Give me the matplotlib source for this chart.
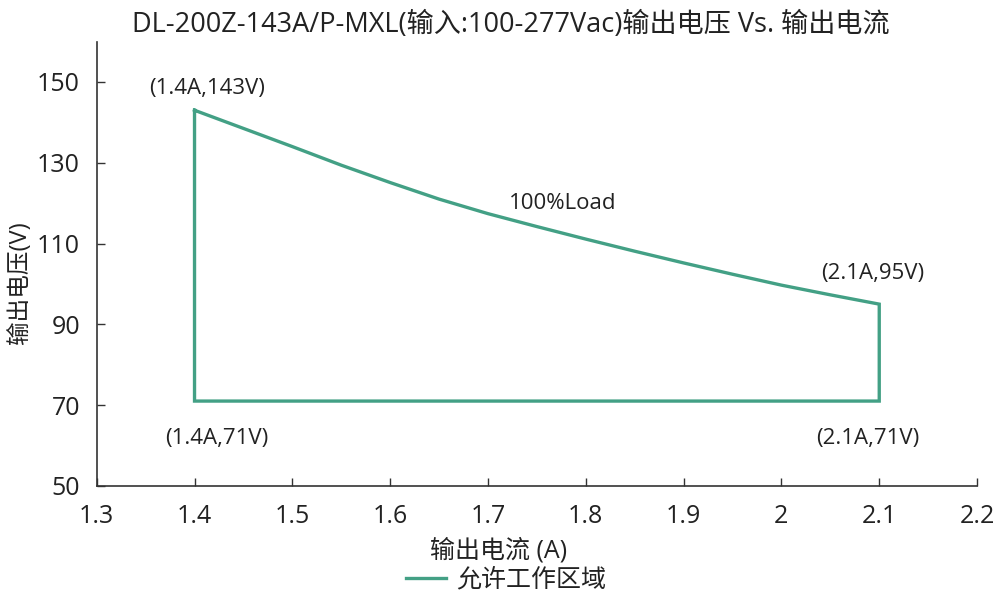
import matplotlib
matplotlib.use("Agg")
import matplotlib.pyplot as plt

plt.rcParams['font.family'] = ['Open Sans', 'Noto Sans CJK SC', 'DejaVu Sans']

# 100%Load 曲线 (输出电流 A, 输出电压 V)
curve_i = [1.4, 1.45, 1.5, 1.55, 1.6, 1.65, 1.7, 1.75, 1.8, 1.85, 1.9, 1.95, 2.0, 2.05, 2.1]
curve_v = [143, 138.5, 134.0, 129.4, 125.1, 121.0, 117.4, 114.2, 111.1, 108.1, 105.2,
           102.4, 99.7, 97.3, 95]
v_min = 71

labels = ["(1.4A,143V)", "(2.1A,95V)", "(1.4A,71V)", "(2.1A,71V)"]
label_xy = [(1.4, 143), (2.1, 95), (1.4, 71), (2.1, 71)]
label_off = [(0.013, 5.3), (-0.007, 7.6), (0.0225, -9.3), (-0.012, -9.3)]

green = '#43a085'
txt = '#222222'

fig = plt.figure(figsize=(9.97, 5.94), dpi=100)
ax = fig.add_axes([0.097, 0.182, 0.883, 0.748])

# 允许工作区域: 曲线 + 右边 + 底边 + 左边
xs = curve_i + [curve_i[-1], curve_i[0], curve_i[0]]
ys = curve_v + [v_min, v_min, curve_v[0]]
ax.plot(xs, ys, color=green, lw=2.4, label='允许工作区域', solid_joinstyle='miter')

ax.set_xlim(1.3, 2.2)
ax.set_ylim(50, 160)
ax.set_xticks([1.3, 1.4, 1.5, 1.6, 1.7, 1.8, 1.9, 2.0, 2.1, 2.2])
ax.set_xticklabels(['1.3', '1.4', '1.5', '1.6', '1.7', '1.8', '1.9', '2', '2.1', '2.2'])
ax.set_yticks([50, 70, 90, 110, 130, 150])
ax.tick_params(direction='in', length=6, width=1, labelsize=18, color='#333333',
               labelcolor=txt)
ax.tick_params(axis='x', pad=13)
ax.tick_params(axis='y', pad=12)
for s in ['top', 'right']:
    ax.spines[s].set_visible(False)
for s in ['left', 'bottom']:
    ax.spines[s].set_color('#333333')
    ax.spines[s].set_linewidth(1.2)

# 标注
for t, (x, y), (dx, dy) in zip(labels, label_xy, label_off):
    ax.text(x + dx, y + dy, t, fontsize=16, ha='center', va='center', color=txt)
ax.text(1.776, 120.0, '100%Load', fontsize=16, ha='center', va='center', color=txt)

ax.set_title('DL-200Z-143A/P-MXL(输入:100-277Vac)输出电压 Vs. 输出电流',
             fontsize=19.5, pad=7, color=txt, x=0.47)
ax.set_xlabel('输出电流 (A)', fontsize=18, color=txt)
ax.xaxis.set_label_coords(0.457, -0.117)
ax.set_ylabel('输出电压(V)', fontsize=17, color=txt)
ax.yaxis.set_label_coords(-0.074, 0.457)

ax.legend(loc='center', bbox_to_anchor=(0.465, -0.212), frameon=False,
          fontsize=18, handlelength=1.6, handletextpad=0.4, labelcolor=txt,
          borderpad=0)

fig.savefig('out.png', dpi=100)
